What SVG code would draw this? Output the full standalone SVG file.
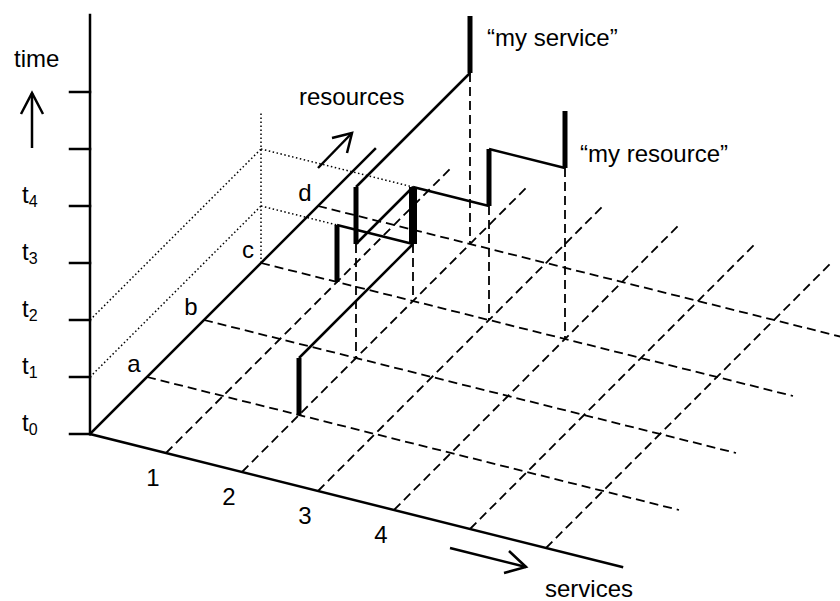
<svg xmlns="http://www.w3.org/2000/svg" width="840" height="601" viewBox="0 0 840 601">
<style>
  .axis{stroke:#000;stroke-width:2.5;fill:none;stroke-linecap:square}
  .grid{stroke:#000;stroke-width:1.8;stroke-dasharray:9 5;fill:none}
  .dot{stroke:#000;stroke-width:1.5;stroke-dasharray:1.5 2.5;fill:none}
  .route{stroke:#000;stroke-width:2.5;fill:none}
  .bar{stroke:#000;stroke-width:5;fill:none}
  .bar2{stroke:#000;stroke-width:8;fill:none}
  .arr{stroke:#000;stroke-width:2.5;fill:none;stroke-linejoin:miter}
  text{font-family:"Liberation Sans",Arial,sans-serif;font-size:24px;fill:#000}
  .sub{font-size:16px}
  .mid{text-anchor:middle}
</style>
<rect width="840" height="601" fill="#fff"/>

<g id="grid">
  <line class="grid" x1="166" y1="453" x2="451" y2="168"/>
  <line class="grid" x1="242" y1="472" x2="527" y2="187"/>
  <line class="grid" x1="318" y1="491" x2="603" y2="206"/>
  <line class="grid" x1="394" y1="510" x2="679" y2="225"/>
  <line class="grid" x1="470" y1="529" x2="755" y2="244"/>
  <line class="grid" x1="546" y1="548" x2="831" y2="263"/>
  <line class="grid" x1="147" y1="377" x2="679" y2="510"/>
  <line class="grid" x1="204" y1="320" x2="736" y2="453"/>
  <line class="grid" x1="261" y1="263" x2="793" y2="396"/>
  <line class="grid" x1="318" y1="206" x2="850" y2="339"/>
</g>

<g id="droplines">
  <line class="grid" x1="470" y1="73" x2="470" y2="244"/>
  <line class="grid" x1="489" y1="206" x2="489" y2="320"/>
  <line class="grid" x1="565" y1="168" x2="565" y2="339"/>
  <line class="grid" x1="413" y1="244" x2="413" y2="301"/>
  <line class="grid" x1="356" y1="244" x2="356" y2="358"/>
</g>

<g id="dotted">
  <line class="dot" x1="90" y1="377" x2="261" y2="206"/>
  <line class="dot" x1="90" y1="320" x2="261" y2="149"/>
  <line class="dot" x1="261" y1="263" x2="261" y2="112"/>
  <line class="dot" x1="261" y1="206" x2="337" y2="225"/>
  <line class="dot" x1="261" y1="149" x2="413" y2="187"/>
</g>

<g id="axes">
  <line class="axis" x1="90" y1="434" x2="90" y2="15"/>
  <line class="axis" x1="90" y1="434" x2="375" y2="149"/>
  <line class="axis" x1="90" y1="434" x2="622" y2="567"/>
  <g id="time-ticks">
    <line class="axis" x1="70" y1="434" x2="90" y2="434"/>
    <line class="axis" x1="70" y1="377" x2="90" y2="377"/>
    <line class="axis" x1="70" y1="320" x2="90" y2="320"/>
    <line class="axis" x1="70" y1="263" x2="90" y2="263"/>
    <line class="axis" x1="70" y1="206" x2="90" y2="206"/>
    <line class="axis" x1="70" y1="149" x2="90" y2="149"/>
    <line class="axis" x1="70" y1="92" x2="90" y2="92"/>
  </g>
</g>

<g id="my-service-path">
  <line class="bar" x1="299" y1="415" x2="299" y2="358"/>
  <line class="route" x1="299" y1="358" x2="413" y2="244"/>
  <line class="route" x1="413" y1="187" x2="356" y2="244"/>
  <line class="bar" x1="356" y1="244" x2="356" y2="187"/>
  <line class="route" x1="356" y1="187" x2="470" y2="73"/>
  <line class="bar" x1="470" y1="73" x2="470" y2="16"/>
</g>

<g id="my-resource-path">
  <line class="bar" x1="337" y1="282" x2="337" y2="225"/>
  <line class="route" x1="337" y1="225" x2="413" y2="244"/>
  <line class="bar2" x1="413" y1="244" x2="413" y2="187"/>
  <line class="route" x1="413" y1="187" x2="489" y2="206"/>
  <line class="bar" x1="489" y1="206" x2="489" y2="149"/>
  <line class="route" x1="489" y1="149" x2="565" y2="168"/>
  <line class="bar" x1="565" y1="168" x2="565" y2="111"/>
</g>

<g id="time-label">
  <text x="14" y="67">time</text>
  <line class="arr" x1="32" y1="148" x2="32" y2="93"/>
  <polyline class="arr" points="21,114 32,93 43,114"/>
</g>

<g id="time-values">
  <text x="22" y="431">t<tspan class="sub" dy="4">0</tspan></text>
  <text x="22" y="374">t<tspan class="sub" dy="4">1</tspan></text>
  <text x="22" y="317">t<tspan class="sub" dy="4">2</tspan></text>
  <text x="22" y="260">t<tspan class="sub" dy="4">3</tspan></text>
  <text x="22" y="203">t<tspan class="sub" dy="4">4</tspan></text>
</g>

<g id="resource-values">
  <text class="mid" x="134" y="372">a</text>
  <text class="mid" x="191" y="315">b</text>
  <text class="mid" x="248" y="258">c</text>
  <text class="mid" x="305" y="201">d</text>
</g>

<g id="service-values">
  <text class="mid" x="153" y="486">1</text>
  <text class="mid" x="229" y="505">2</text>
  <text class="mid" x="305" y="524">3</text>
  <text class="mid" x="381" y="543">4</text>
</g>

<g id="resources-label">
  <text x="299" y="105">resources</text>
  <line class="arr" x1="318" y1="168" x2="352" y2="133"/>
  <polyline class="arr" points="332,138 352,133 347,153"/>
</g>

<g id="services-label">
  <line class="arr" x1="450" y1="548" x2="526" y2="567"/>
  <polyline class="arr" points="509,551 526,567 504,573"/>
  <text x="545" y="597">services</text>
</g>

<g id="callouts">
  <text x="487" y="46">“my service”</text>
  <text x="580" y="162">“my resource”</text>
</g>
</svg>
